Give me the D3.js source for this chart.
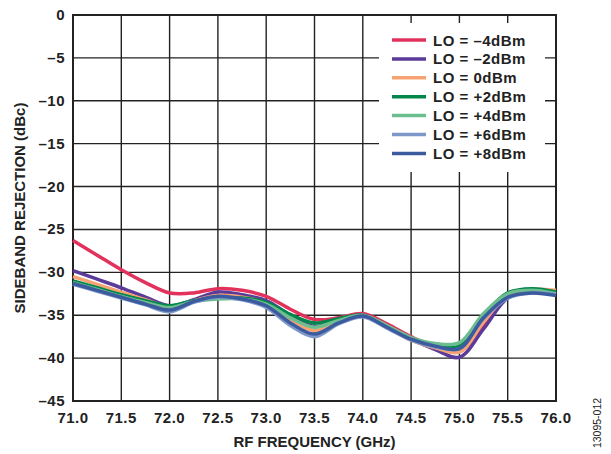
<!DOCTYPE html>
<html lang="en">
<head>
<meta charset="UTF-8">
<script src="https://cdn.jsdelivr.net/npm/d3@7"></script>
<title>Sideband rejection</title>
<style>
  body { margin: 0; background: #fff; }
  text { font-family: "Liberation Sans", Arial, sans-serif; }
</style>
</head>
<body>
<script>
// data
var freqs = [71.0, 71.25, 71.5, 71.75, 72.0, 72.25, 72.5, 72.75, 73.0, 73.25, 73.5,
             73.75, 74.0, 74.25, 74.5, 74.75, 75.0, 75.25, 75.5, 75.75, 76.0];
var loM4 = [-26.3,-28.0,-29.7,-31.2,-32.4,-32.4,-31.9,-32.1,-32.8,-34.3,-35.5,-35.3,-34.8,-36.0,-37.5,-38.7,-39.2,-36.3,-32.9,-32.1,-32.3];
var loM2 = [-29.8,-30.8,-31.8,-32.9,-33.9,-33.2,-32.3,-32.6,-33.3,-35.0,-36.3,-35.6,-35.0,-36.3,-37.8,-39.0,-39.9,-36.6,-33.0,-32.2,-32.4];
var lo0  = [-30.5,-31.4,-32.3,-33.2,-34.0,-33.3,-32.7,-32.9,-33.6,-35.5,-36.8,-35.8,-35.1,-36.4,-37.9,-38.8,-39.3,-35.8,-32.7,-32.0,-32.1];
var loP2 = [-31.0,-31.8,-32.6,-33.3,-33.9,-33.3,-33.0,-33.0,-33.5,-34.9,-35.9,-35.4,-35.0,-36.3,-37.8,-38.5,-38.6,-35.0,-32.4,-31.9,-32.3];
var loP4 = [-31.2,-32.0,-32.8,-33.5,-34.1,-33.4,-33.1,-33.1,-33.7,-35.3,-36.4,-35.6,-35.0,-36.2,-37.6,-38.3,-38.2,-34.8,-32.5,-32.1,-32.5];
var loP6 = [-31.4,-32.2,-33.0,-33.8,-34.6,-33.5,-32.9,-33.2,-34.1,-36.2,-37.5,-36.0,-35.2,-36.5,-37.9,-38.7,-38.9,-35.4,-33.0,-32.4,-32.6];
var loP8 = [-31.3,-32.1,-32.9,-33.7,-34.4,-33.4,-32.8,-33.1,-33.9,-35.9,-37.2,-35.9,-35.1,-36.4,-37.8,-38.6,-38.9,-35.3,-32.9,-32.4,-32.7];

var seriesNames = ["LO = \u20134dBm", "LO = \u20132dBm", "LO = 0dBm", "LO = +2dBm", "LO = +4dBm", "LO = +6dBm", "LO = +8dBm"];
var seriesColors = ["#e2325c", "#5b3b99", "#f7a273", "#00854a", "#6dbe8f", "#7e98c9", "#3c5b9f"];
var xTicks = [71.0, 71.5, 72.0, 72.5, 73.0, 73.5, 74.0, 74.5, 75.0, 75.5, 76.0];
var yTicks = [0, -5, -10, -15, -20, -25, -30, -35, -40, -45];

var series = [loM4, loM2, lo0, loP2, loP4, loP6, loP8].map(function(vals, i) {
  return { name: seriesNames[i], color: seriesColors[i],
           pts: vals.map(function(v, j) { return [freqs[j], v]; }) };
});

var W = 611, H = 454;
var m = { left: 73, right: 55, top: 15, bottom: 53 };

var svg = d3.select("body").append("svg")
  .attr("width", W).attr("height", H);

var x = d3.scaleLinear().domain([71, 76]).range([m.left, W - m.right]);
var y = d3.scaleLinear().domain([-45, 0]).range([H - m.bottom, m.top]);

// grid
svg.append("g").selectAll("line").data(xTicks).enter().append("line")
  .attr("x1", function(d) { return x(d); }).attr("x2", function(d) { return x(d); })
  .attr("y1", y(0)).attr("y2", y(-45))
  .attr("stroke", "#222").attr("stroke-width", 1.4);
svg.append("g").selectAll("line").data(yTicks).enter().append("line")
  .attr("y1", function(d) { return y(d); }).attr("y2", function(d) { return y(d); })
  .attr("x1", x(71)).attr("x2", x(76))
  .attr("stroke", "#222").attr("stroke-width", 1.4);

// legend background hides the grid
svg.append("rect")
  .attr("x", 379).attr("y", 23).attr("width", 166).attr("height", 149)
  .attr("fill", "#fff");

// frame
svg.append("rect")
  .attr("x", x(71)).attr("y", y(0))
  .attr("width", x(76) - x(71)).attr("height", y(-45) - y(0))
  .attr("fill", "none").attr("stroke", "#222").attr("stroke-width", 2);

// curves
var line = d3.line()
  .x(function(d) { return x(d[0]); })
  .y(function(d) { return y(d[1]); })
  .curve(d3.curveCatmullRom.alpha(0.5));

svg.append("g").selectAll("path").data(series).enter().append("path")
  .attr("d", function(d) { return line(d.pts); })
  .attr("fill", "none")
  .attr("stroke", function(d) { return d.color; })
  .attr("stroke-width", 3.5)
  .attr("stroke-linejoin", "round");

// tick labels
svg.append("g").selectAll("text").data(xTicks).enter().append("text")
  .attr("x", function(d) { return x(d); })
  .attr("y", y(-45) + 22)
  .attr("text-anchor", "middle")
  .attr("font-size", 15).attr("font-weight", "bold").attr("fill", "#222")
  .attr("letter-spacing", 0.5)
  .text(function(d) { return d.toFixed(1); });

svg.append("g").selectAll("text").data(yTicks).enter().append("text")
  .attr("x", m.left - 8)
  .attr("y", function(d) { return y(d) + 5; })
  .attr("text-anchor", "end")
  .attr("font-size", 15).attr("font-weight", "bold").attr("fill", "#222")
  .attr("letter-spacing", 0.5)
  .text(function(d) { return d < 0 ? "\u2013" + Math.abs(d) : d; });

// axis titles
svg.append("text")
  .attr("x", (x(71) + x(76)) / 2).attr("y", 447)
  .attr("text-anchor", "middle")
  .attr("font-size", 15).attr("font-weight", "bold").attr("fill", "#222")
  .text("RF FREQUENCY (GHz)");

svg.append("text")
  .attr("transform", "translate(25," + (y(0) + y(-45)) / 2 + ") rotate(-90)")
  .attr("text-anchor", "middle")
  .attr("font-size", 15).attr("font-weight", "bold").attr("fill", "#222")
  .text("SIDEBAND REJECTION (dBc)");

svg.append("text")
  .attr("transform", "translate(601,423) rotate(-90)")
  .attr("text-anchor", "middle")
  .attr("font-size", 10.5).attr("fill", "#222")
  .text("13095-012");

// legend
var leg = svg.append("g").selectAll("g").data(series).enter().append("g")
  .attr("transform", function(d, i) { return "translate(392," + (40 + i * 18.9) + ")"; });
leg.append("line")
  .attr("x1", 0).attr("x2", 34)
  .attr("stroke", function(d) { return d.color; })
  .attr("stroke-width", 3.5);
leg.append("text")
  .attr("x", 41).attr("y", 5.5)
  .attr("font-size", 15).attr("font-weight", "bold").attr("fill", "#222")
  .attr("letter-spacing", 0.5)
  .text(function(d) { return d.name; });
</script>
</body>
</html>
